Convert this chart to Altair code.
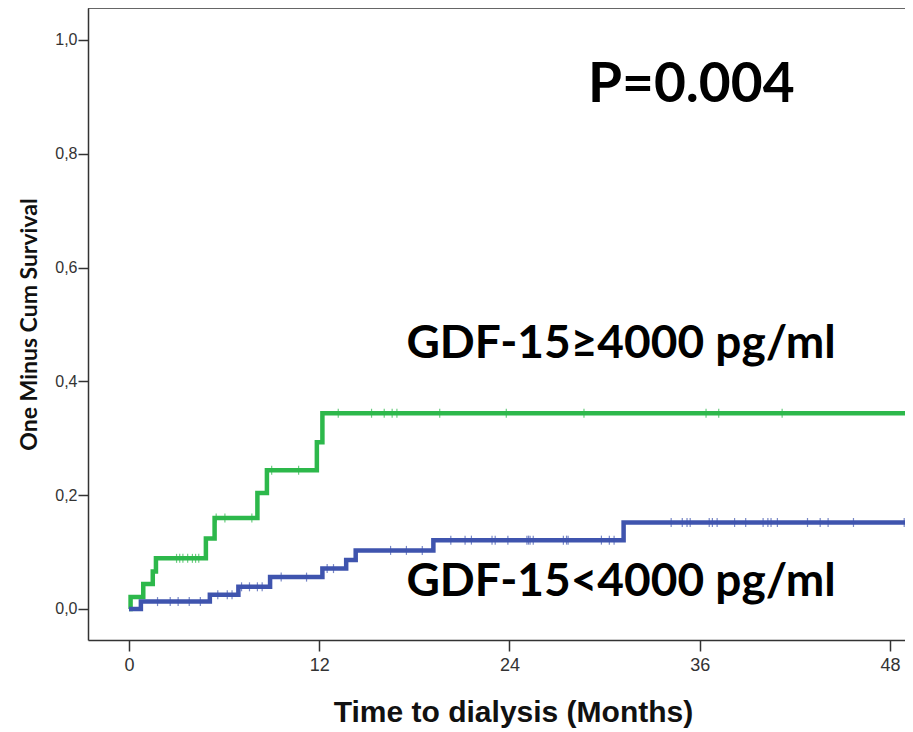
import altair as alt
import pandas as pd

# ---- data ----
high_times = [0, 0.1, 0.9, 1.5, 1.7, 4.85, 5.4, 8.1, 8.7, 11.85, 12.2, 50]
high_vals = [0, 0.021, 0.044, 0.066, 0.089, 0.124, 0.160, 0.204, 0.244, 0.293, 0.344, 0.344]
high_censor = [3.0, 3.2, 3.4, 3.7, 4.0, 4.2, 4.4, 5.5, 6.05, 7.75, 9.0, 10.7,
               13.2, 15.3, 16.1, 16.6, 16.9, 19.6, 23.8, 28.7, 36.4, 37.2, 41.2]

low_times = [0, 0.75, 5.1, 6.9, 8.9, 12.2, 13.7, 14.3, 19.2, 31.2, 50]
low_vals = [0, 0.013, 0.025, 0.039, 0.056, 0.071, 0.086, 0.103, 0.121, 0.152, 0.152]
low_censor = [1.8, 2.6, 3.1, 3.8, 4.5, 5.6, 6.2, 6.5, 7.1, 7.6, 8.1, 8.4, 9.6, 11.2,
              12.5, 12.9, 16.5, 17.5, 18.5, 20.3, 21.2, 21.6, 22.9, 23.1, 23.9, 25.1,
              25.2, 25.3, 25.5, 27.4, 27.6, 27.7, 29.8, 30.3, 30.6, 34.2, 34.9, 35.2,
              35.4, 36.6, 36.8, 37.1, 38.2, 38.9, 40.0, 40.3, 40.5, 40.9, 42.8, 43.6,
              44.1, 45.7, 48.9]

groups = ["high", "low"]
colors = ["#2db84b", "#3f54ae"]
x_ticks = [0, 12, 24, 36, 48]
y_ticks = [0.0, 0.2, 0.4, 0.6, 0.8, 1.0]

p_text = "P=0.004"
label_high = "GDF-15≥4000 pg/ml"
label_low = "GDF-15<4000 pg/ml"


def level_at(t, times, vals):
    v = vals[0]
    for tt, vv in zip(times, vals):
        if tt <= t:
            v = vv
    return v


curve_rows = []
for g, ts, vs in [("high", high_times, high_vals), ("low", low_times, low_vals)]:
    for i, (t, v) in enumerate(zip(ts, vs)):
        curve_rows.append({"group": g, "t": t, "v": v, "order": i})
curves = pd.DataFrame(curve_rows)

cens_rows = []
for g, cs, ts, vs in [("high", high_censor, high_times, high_vals),
                      ("low", low_censor, low_times, low_vals)]:
    for c in cs:
        cens_rows.append({"group": g, "t": c, "v": level_at(c, ts, vs)})
cens = pd.DataFrame(cens_rows)

ann = pd.DataFrame([
    {"t": 28.95, "v": 0.891, "txt": p_text, "size": 55},
    {"t": 17.5, "v": 0.441, "txt": label_high, "size": 46},
    {"t": 17.5, "v": 0.022, "txt": label_low, "size": 46},
])

W, H = 817, 632
xdom = [-2.586, 48.95]
ydom = [-0.0545, 1.0562]

xscale = alt.Scale(domain=xdom, nice=False, zero=False)
yscale = alt.Scale(domain=ydom, nice=False, zero=False)
cscale = alt.Scale(domain=groups, range=colors)

xaxis = alt.Axis(values=x_ticks, format="d", grid=False, tickSize=11, tickWidth=1.5,
                 tickColor="#333", domainColor="#333", domainWidth=1.5,
                 labelFontSize=18, labelColor="#333", labelFont="Liberation Sans",
                 labelPadding=5, title="Time to dialysis (Months)",
                 titleFont="Liberation Sans", titleFontSize=30, titleFontWeight="bold",
                 titleColor="#111", titlePadding=23, titleX=425, titleAlign="center")
yaxis = alt.Axis(values=y_ticks, grid=False, tickSize=10, tickWidth=1.5,
                 tickColor="#333", domainColor="#333", domainWidth=1.5,
                 labelExpr="replace(format(datum.value, '.1f'), '.', ',')",
                 labelFontSize=16, labelColor="#333", labelFont="Liberation Sans",
                 labelPadding=1, title="One Minus Cum Survival",
                 titleFont="Lato", titleFontSize=23, titleFontWeight="bold",
                 titleColor="#111", titlePadding=13)

lines = alt.Chart(curves).mark_line(interpolate="step-after", strokeWidth=4.5, clip=True).encode(
    x=alt.X("t:Q", scale=xscale, axis=xaxis),
    y=alt.Y("v:Q", scale=yscale, axis=yaxis),
    color=alt.Color("group:N", scale=cscale, legend=None),
    detail="group:N",
    order="order:Q",
)

ticks = alt.Chart(cens).mark_tick(orient="vertical", size=9, thickness=1.2, clip=True).encode(
    x=alt.X("t:Q", scale=xscale),
    y=alt.Y("v:Q", scale=yscale),
    color=alt.Color("group:N", scale=cscale, legend=None),
)

texts = alt.Chart(ann).mark_text(align="left", baseline="alphabetic", font="Lato",
                                 fontWeight="bold", color="black").encode(
    x=alt.X("t:Q", scale=xscale),
    y=alt.Y("v:Q", scale=yscale),
    text="txt:N",
    size=alt.Size("size:Q", scale=None, legend=None),
)

top_border = alt.Chart(pd.DataFrame({"a": [0]})).mark_rule(color="#333", strokeWidth=1.5).encode(
    x=alt.value(0), x2=alt.value(W), y=alt.value(0)
)

chart = alt.layer(lines, ticks, texts, top_border).properties(
    width=W, height=H,
    autosize=alt.AutoSizeParams(type="none"),
    padding={"left": 80, "top": 0, "right": 0, "bottom": 90},
    background="white",
).configure_view(stroke=None)

chart.save("out.html", embed_options={"renderer": "svg", "actions": False})
